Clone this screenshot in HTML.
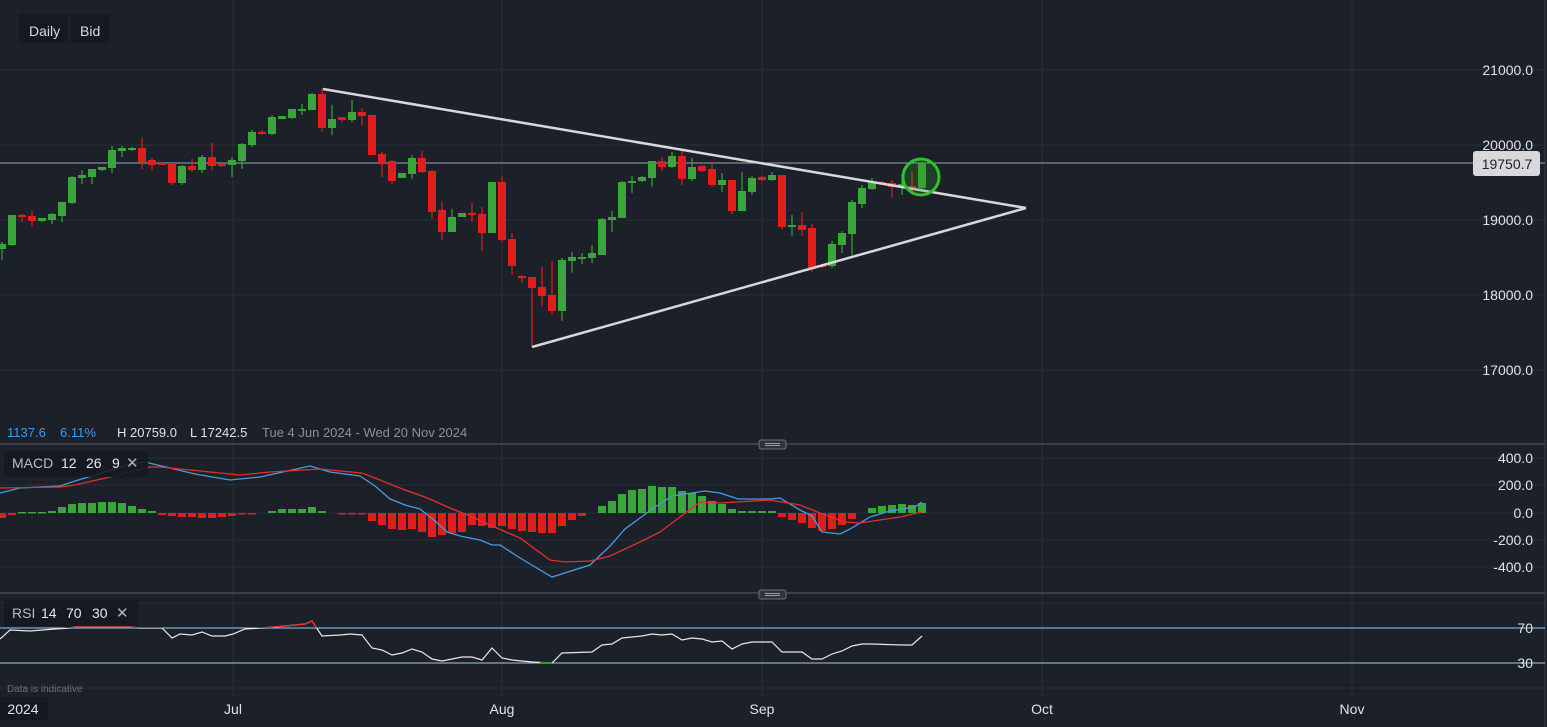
<!DOCTYPE html>
<html><head><meta charset="utf-8"><style>
html,body{margin:0;padding:0;background:#1b2029;}
svg{display:block;font-family:"Liberation Sans",sans-serif;}
</style></head><body>
<svg id="s" width="1547" height="727" viewBox="0 0 1547 727" xmlns="http://www.w3.org/2000/svg">
<rect width="1547" height="727" fill="#1b2029"/>
<g stroke="#2a303a" stroke-width="1">
<line x1="0" y1="70" x2="1545" y2="70"/><line x1="0" y1="145" x2="1545" y2="145"/><line x1="0" y1="220" x2="1545" y2="220"/><line x1="0" y1="295" x2="1545" y2="295"/><line x1="0" y1="370" x2="1545" y2="370"/>
<line x1="0" y1="458" x2="1545" y2="458"/><line x1="0" y1="485" x2="1545" y2="485"/><line x1="0" y1="513" x2="1545" y2="513"/><line x1="0" y1="540" x2="1545" y2="540"/><line x1="0" y1="567" x2="1545" y2="567"/>
<line x1="0" y1="603" x2="1545" y2="603"/><line x1="0" y1="688" x2="1545" y2="688"/>
<line x1="233" y1="0" x2="233" y2="697"/><line x1="502" y1="0" x2="502" y2="697"/><line x1="762" y1="0" x2="762" y2="697"/><line x1="1042" y1="0" x2="1042" y2="697"/><line x1="1352" y1="0" x2="1352" y2="697"/>
</g>
<line x1="0" y1="444" x2="1545" y2="444" stroke="#5a606a"/>
<line x1="0" y1="593" x2="1545" y2="593" stroke="#5a606a"/>
<line x1="1545" y1="0" x2="1545" y2="727" stroke="#3a404a"/>
<line x1="0" y1="628" x2="1545" y2="628" stroke="#9cc8f0"/>
<line x1="0" y1="663" x2="1545" y2="663" stroke="#9cc8f0"/>
<line x1="0" y1="163" x2="1545" y2="163" stroke="#a0a4aa"/>
<g id="candles"></g>
<g id="hist"></g>
<line x1="323" y1="89" x2="1026" y2="208" stroke="#d8d8d8" stroke-width="2.5"/>
<line x1="532" y1="347" x2="1026" y2="208" stroke="#d8d8d8" stroke-width="2.5"/>
<circle cx="921" cy="177" r="18" fill="rgba(40,160,40,0.25)" stroke="#2fbf2f" stroke-width="3"/>
<polyline fill="none" stroke="#4a9ae0" stroke-width="1.3" points="0,493 20,488 60,486 75,481 95,475 130,464 145,462 170,468 195,474 230,480 260,477 310,466 330,472 360,476 375,486 390,499 405,505 420,509 435,521 447,532 460,536 480,540 492,545 500,545 520,558 552,577 590,565 610,546 625,529 640,518 652,509 672,496 705,491 720,493 738,499 770,499 780,498 800,510 812,516 822,532 840,534 850,529 870,517 890,511 915,507 922,502"/>
<polyline fill="none" stroke="#e03030" stroke-width="1.3" points="0,488 60,487 75,485 110,477 150,467 160,467 190,470 240,475 270,472 320,469 362,473 380,480 405,490 425,497 450,508 470,516 490,525 520,538 550,560 565,562 590,561 610,556 640,542 660,532 680,517 700,502 720,503 770,500 800,505 820,513 845,522 860,523 900,517 922,512"/>
<defs><clipPath id="above"><rect x="0" y="590" width="1545" height="38"/></clipPath></defs>
<polyline id="rsi" fill="none" stroke="#e8e8e8" stroke-width="1.2" points="0,639 10,630 30,631 55,629 70,628 75,627 130,627 140,628 150,628 162,628 172,638 180,634 192,635 202,632 212,636 225,636 233,634 245,629 262,628 285,626 305,624 312,621 322,636 340,635 350,634 362,635 372,648 382,650 392,655 402,653 412,649 422,652 432,659 442,661 452,659 462,657 472,657 482,660 492,648 502,658 512,660 532,662 552,663 562,653 592,652 602,645 612,644 622,638 642,636 652,634 662,635 672,634 682,640 692,638 702,639 712,642 722,641 732,649 742,644 752,642 772,642 782,652 802,652 812,659 822,659 832,654 842,651 852,646 862,644 872,644 902,645 912,645 922,636"/>
<polyline fill="none" stroke="#e03030" stroke-width="1.3" clip-path="url(#above)" points="0,639 10,630 30,631 55,629 70,628 75,627 130,627 140,628 150,628 162,628 172,638 180,634 192,635 202,632 212,636 225,636 233,634 245,629 262,628 285,626 305,624 312,621 322,636"/>
<line x1="540" y1="663" x2="552" y2="663" stroke="#2fa02f" stroke-width="2"/>
<!-- labels -->
<rect x="19" y="14" width="49" height="29" rx="2" fill="#151920"/>
<rect x="71" y="14" width="39" height="29" rx="2" fill="#151920"/>
<text x="29" y="36" font-size="14" fill="#d8dce2">Daily</text>
<text x="80" y="36" font-size="14" fill="#d8dce2">Bid</text>
<text x="7" y="437" font-size="13" fill="#3d9be9">1137.6</text>
<text x="60" y="437" font-size="13" fill="#3d9be9">6.11%</text>
<text x="117" y="437" font-size="13" fill="#dfe2e6">H 20759.0</text>
<text x="190" y="437" font-size="13" fill="#dfe2e6">L 17242.5</text>
<text x="262" y="437" font-size="13" fill="#8a8f98">Tue 4 Jun 2024 - Wed 20 Nov 2024</text>
<rect x="4" y="451" width="144" height="26" rx="2" fill="#151920" opacity="0.85"/>
<text x="12" y="468" font-size="14" fill="#b8bcc2">MACD</text>
<text x="61" y="468" font-size="14" fill="#e8e8e8">12</text><text x="86" y="468" font-size="14" fill="#e8e8e8">26</text><text x="112" y="468" font-size="14" fill="#e8e8e8">9</text>
<text x="126" y="468" font-size="15" fill="#b0b4ba">✕</text>
<rect x="4" y="600" width="134" height="26" rx="2" fill="#151920" opacity="0.85"/>
<text x="12" y="618" font-size="14" fill="#b8bcc2">RSI</text>
<text x="41" y="618" font-size="14" fill="#e8e8e8">14</text><text x="66" y="618" font-size="14" fill="#e8e8e8">70</text><text x="92" y="618" font-size="14" fill="#e8e8e8">30</text>
<text x="116" y="618" font-size="15" fill="#b0b4ba">✕</text>
<text x="7" y="692" font-size="10" fill="#6a707a">Data is indicative</text>
<rect x="759" y="440" width="27" height="9" rx="2" fill="#2e333c" stroke="#6a6f78"/>
<line x1="765" y1="443.5" x2="780" y2="443.5" stroke="#9a9ea6"/><line x1="765" y1="445.5" x2="780" y2="445.5" stroke="#9a9ea6"/>
<rect x="759" y="590" width="27" height="9" rx="2" fill="#2e333c" stroke="#6a6f78"/>
<line x1="765" y1="593.5" x2="780" y2="593.5" stroke="#9a9ea6"/><line x1="765" y1="595.5" x2="780" y2="595.5" stroke="#9a9ea6"/>
<g font-size="14" fill="#e0e3e8" text-anchor="end">
<text x="1533" y="75">21000.0</text><text x="1533" y="150">20000.0</text><text x="1533" y="225">19000.0</text><text x="1533" y="300">18000.0</text><text x="1533" y="375">17000.0</text>
<text x="1533" y="463">400.0</text><text x="1533" y="490">200.0</text><text x="1533" y="518">0.0</text><text x="1533" y="545">-200.0</text><text x="1533" y="572">-400.0</text>
<text x="1533" y="633">70</text><text x="1533" y="668">30</text>
</g>
<rect x="1473" y="151" width="67" height="25" rx="3" fill="#d8d8dc"/>
<text x="1507" y="169" font-size="14" fill="#222" text-anchor="middle">19750.7</text>
<rect x="0" y="697" width="48" height="23" fill="#141820"/>
<g font-size="14" fill="#e0e3e8" text-anchor="middle">
<text x="23" y="714">2024</text><text x="233" y="714">Jul</text><text x="502" y="714">Aug</text><text x="762" y="714">Sep</text><text x="1042" y="714">Oct</text><text x="1352" y="714">Nov</text>
</g>
</svg>
<script>
var G="#3aa53a",R="#e01e1e",ns="http://www.w3.org/2000/svg";
// [cx, bodyTop, bodyBot, wickTop, wickBot, color]
var c=[[2,244,249,242,260,G],[12,215,245,215,246,G],[22,215,217,214,222,R],[32,216,221,211,227,R],[42,218,221,218,222,G],[52,214,220,213,224,G],[62,202,216,202,222,G],[72,177,203,176,204,G],[82,175,178,170,184,G],[92,169,177,169,184,G],[102,167,170,167,171,G],[112,150,168,146,173,G],[122,148,151,146,157,G],[132,148,150,147,151,G],[142,148,162,138,169,R],[152,160,165,158,171,R],[162,163,164,163,165,R],[172,163,183,163,185,R],[182,166,183,165,185,G],[192,166,170,159,172,R],[202,157,170,155,173,G],[212,157,166,143,170,R],[222,164,165,163,167,R],[232,160,165,157,177,G],[242,144,161,143,169,G],[252,132,145,130,147,G],[262,132,134,130,135,R],[272,117,134,115,135,G],[282,116,119,116,119,G],[292,109,118,109,119,G],[302,109,111,104,115,G],[312,94,110,93,110,G],[322,94,128,88,132,R],[332,119,128,105,135,G],[342,117,120,117,122,R],[352,112,120,100,122,G],[362,112,116,108,125,R],[372,115,155,115,155,R],[382,154,163,152,177,R],[392,161,181,160,184,R],[402,173,178,173,178,G],[412,158,174,155,179,G],[422,158,172,151,173,R],[432,171,212,170,219,R],[442,210,232,202,240,R],[452,217,232,209,232,G],[462,213,217,213,217,G],[472,213,215,203,222,R],[482,214,233,207,251,R],[492,182,233,182,233,G],[502,182,240,176,242,R],[512,239,266,233,275,R],[522,276,278,275,283,R],[532,277,288,277,347,R],[542,287,296,267,306,R],[552,295,311,261,315,R],[562,260,311,258,321,G],[572,257,261,252,273,G],[582,257,259,253,264,G],[592,253,258,245,263,G],[602,219,255,218,255,G],[612,217,220,211,232,G],[622,182,218,181,218,G],[632,181,183,176,193,G],[642,177,181,176,182,G],[652,161,178,161,187,G],[662,161,167,157,171,R],[672,156,167,152,168,G],[682,156,179,151,185,R],[692,167,179,158,181,G],[702,166,171,165,172,R],[712,169,185,162,187,R],[722,180,185,173,192,G],[732,180,211,180,214,R],[742,191,211,172,211,G],[752,178,192,176,195,G],[762,177,180,176,181,R],[772,175,180,172,181,G],[782,175,227,175,229,R],[792,225,227,215,236,G],[802,225,230,212,236,R],[812,228,269,224,272,R],[822,265,267,264,268,R],[832,244,266,241,268,G],[842,233,245,231,253,G],[852,202,234,200,255,G],[862,188,204,185,208,G],[872,182,189,178,190,G],[882,182,183,181,184,R],[892,183,187,180,198,R],[902,184,186,174,195,G],[912,186,188,171,195,R],[922,163,188,162,189,G]];
var g=document.getElementById("candles");
c.forEach(function(a){var l=document.createElementNS(ns,"line");l.setAttribute("x1",a[0]);l.setAttribute("x2",a[0]);l.setAttribute("y1",a[3]);l.setAttribute("y2",a[4]);l.setAttribute("stroke",a[5]);l.setAttribute("stroke-width","1.2");g.appendChild(l);
var r=document.createElementNS(ns,"rect");r.setAttribute("x",a[0]-4);r.setAttribute("y",a[1]);r.setAttribute("width",8);r.setAttribute("height",Math.max(2,a[2]-a[1]));r.setAttribute("fill",a[5]);g.appendChild(r);});
// histogram: [cx, y]
var h=[[2,518],[12,515],[22,512],[32,512],[42,512],[52,511],[62,507],[72,504],[82,503],[92,503],[102,502],[112,502],[122,503],[132,506],[142,509],[152,511],[162,515],[172,516],[182,517],[192,517],[202,518],[212,518],[222,517],[232,516],[242,514],[252,514],[272,511],[282,509],[292,509],[302,509],[312,507],[322,511],[342,514],[352,514],[362,514],[372,521],[382,525],[392,529],[402,530],[412,529],[422,532],[432,537],[442,535],[452,533],[462,532],[472,525],[482,526],[492,528],[502,526],[512,529],[522,531],[532,532],[542,533],[552,533],[562,526],[572,520],[582,516],[602,506],[612,501],[622,494],[632,490],[642,489],[652,486],[662,487],[672,487],[682,491],[692,493],[702,496],[712,501],[722,504],[732,509],[742,511],[752,511],[762,511],[772,511],[782,517],[792,520],[802,523],[812,528],[822,531],[832,529],[842,525],[852,519],[872,508],[882,506],[892,505],[902,504],[912,505],[922,503]];
var hg=document.getElementById("hist");
h.forEach(function(a){var r=document.createElementNS(ns,"rect");var up=a[1]<513;r.setAttribute("x",a[0]-4);r.setAttribute("width",8);r.setAttribute("y",up?a[1]:513);r.setAttribute("height",Math.max(1.5,Math.abs(a[1]-513)));r.setAttribute("fill",up?G:R);hg.appendChild(r);});
</script>
</body></html>
